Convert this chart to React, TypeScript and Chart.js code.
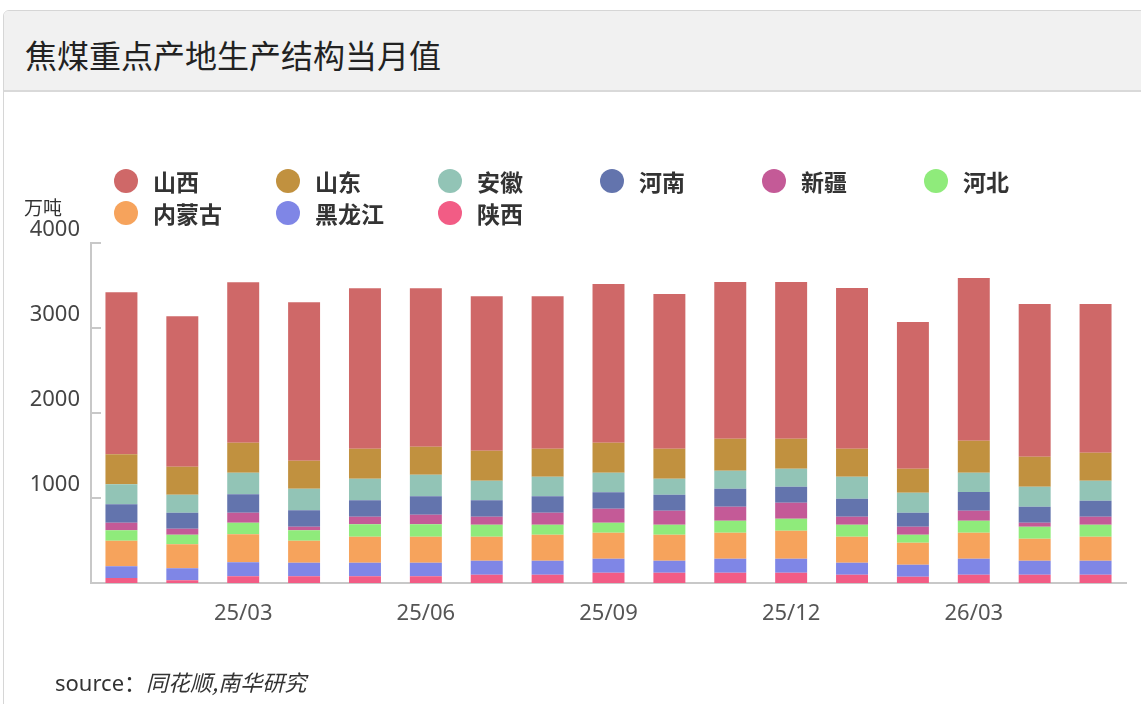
import React, { useEffect, useRef } from 'react';
import { Chart, registerables } from 'chart.js';

Chart.register(...registerables);

// ---- Data ----
const months = ['25/01', '25/02', '25/03', '25/04', '25/05', '25/06', '25/07', '25/08', '25/09', '25/10', '25/11', '25/12', '26/01', '26/02', '26/03', '26/04', '26/05'];
const shownTicks = ['25/03', '25/06', '25/09', '25/12', '26/03'];
const yTickValues = [0, 1000, 2000, 3000, 4000];

const shaanxi = [59, 31, 78, 78, 78, 78, 98, 98, 122, 122, 122, 122, 98, 75, 98, 98, 98];
const heilongjiang = [137, 142, 165, 161, 161, 161, 164, 164, 164, 140, 164, 164, 141, 141, 188, 164, 164];
const neimenggu = [302, 282, 330, 259, 306, 306, 283, 307, 306, 307, 306, 330, 306, 259, 306, 260, 283];
const hebei = [122, 114, 137, 122, 145, 145, 141, 117, 118, 117, 141, 141, 141, 94, 141, 141, 141];
const xinjiang = [90, 70, 117, 43, 90, 114, 94, 141, 164, 165, 165, 188, 94, 94, 118, 47, 94];
const henan = [216, 188, 216, 192, 193, 216, 193, 193, 193, 188, 212, 188, 212, 164, 220, 188, 189];
const anhui = [235, 212, 255, 255, 254, 255, 231, 231, 231, 188, 212, 212, 259, 236, 227, 235, 235];
const shandong = [353, 330, 353, 329, 353, 329, 353, 329, 353, 353, 376, 353, 329, 282, 377, 353, 329];
const shanxi = [1906, 1768, 1886, 1863, 1887, 1863, 1816, 1793, 1867, 1820, 1843, 1843, 1890, 1726, 1913, 1796, 1749];

// legend order (as shown) and stack order (bottom to top)
const legendNames = ['山西', '山东', '安徽', '河南', '新疆', '河北', '内蒙古', '黑龙江', '陕西'];
const colors: Record<string, string> = {
  山西: '#cf6868',
  山东: '#c1913f',
  安徽: '#92c4b6',
  河南: '#6374ad',
  新疆: '#c45a97',
  河北: '#8feb7b',
  内蒙古: '#f6a35c',
  黑龙江: '#7f86e6',
  陕西: '#f25c85',
};
const stackSeries: [string, number[]][] = [
  ['陕西', shaanxi],
  ['黑龙江', heilongjiang],
  ['内蒙古', neimenggu],
  ['河北', hebei],
  ['新疆', xinjiang],
  ['河南', henan],
  ['安徽', anhui],
  ['山东', shandong],
  ['山西', shanxi],
];

const FONT = '"Noto Sans", "Noto Sans CJK SC", sans-serif';

const innerTicks = {
  id: 'innerTicks',
  afterDraw(chart: any) {
    const { ctx, chartArea } = chart;
    const y = chart.scales.y;
    ctx.save();
    ctx.strokeStyle = '#c8c8c8';
    ctx.lineWidth = 2;
    yTickValues.forEach((v) => {
      const py = Math.round(y.getPixelForValue(v));
      ctx.beginPath();
      ctx.moveTo(chartArea.left, py);
      ctx.lineTo(chartArea.left + 10, py);
      ctx.stroke();
    });
    ctx.restore();
  },
};

export default function App() {
  const ref = useRef<HTMLCanvasElement | null>(null);

  useEffect(() => {
    document.body.style.margin = '0';
    const canvas = ref.current!;
    const chart = new Chart(canvas, {
      type: 'bar',
      data: {
        labels: months,
        datasets: stackSeries.map(([name, values]) => ({
          label: name,
          data: values,
          backgroundColor: colors[name],
          borderWidth: 0,
          categoryPercentage: 1,
          barPercentage: 0.525,
        })),
      },
      options: {
        responsive: false,
        animation: false,
        devicePixelRatio: 1,
        layout: { padding: { left: 0, top: 243, right: 15, bottom: 0 } },
        plugins: { legend: { display: false }, tooltip: { enabled: false }, title: { display: false } },
        scales: {
          x: {
            stacked: true,
            afterFit: (s: any) => { s.height = 121; },
            grid: { display: false, drawTicks: false },
            border: { display: true, color: '#c8c8c8', width: 2 },
            ticks: {
              autoSkip: false,
              maxRotation: 0,
              padding: 18,
              color: '#555',
              font: { family: FONT, size: 22 },
              callback: (_v: any, i: number) => (shownTicks.includes(months[i]) ? months[i] : ''),
            },
          },
          y: {
            stacked: true,
            min: 0,
            max: 4000,
            afterFit: (s: any) => { s.width = 91; },
            grid: { display: false, drawTicks: false },
            border: { display: true, color: '#c8c8c8', width: 2 },
            ticks: {
              stepSize: 1000,
              padding: 11,
              labelOffset: -13,
              color: '#444',
              font: { family: FONT, size: 22 },
              callback: (v: any) => (v === 0 ? '' : String(v)),
            },
          },
        },
      },
      plugins: [innerTicks],
    });
    return () => chart.destroy();
  }, []);

  return (
    <div style={{ position: 'relative', width: 1141, height: 704, overflow: 'hidden', background: '#fff', fontFamily: FONT }}>
      {/* card */}
      <div style={{ position: 'absolute', left: 3, top: 10, width: 1160, height: 720, border: '1px solid #d6d6d6', borderRadius: '6px 0 0 0', boxSizing: 'border-box' }} />
      <div style={{ position: 'absolute', left: 4, top: 11, width: 1160, height: 79, background: '#f1f1f1', borderBottom: '2px solid #d9d9d9', borderRadius: '5px 0 0 0' }} />
      <div style={{ position: 'absolute', left: 25, top: 31, fontSize: 32, lineHeight: '46px', color: '#222', fontFamily: '"Noto Sans CJK SC", sans-serif' }}>
        焦煤重点产地生产结构当月值
      </div>
      <canvas ref={ref} width={1141} height={704} style={{ position: 'absolute', left: 0, top: 0 }} />
      {/* legend */}
      {legendNames.map((name, i) => {
        const col = i % 6;
        const row = Math.floor(i / 6);
        const cx = 126 + col * 162;
        const cy = 181 + row * 32;
        return (
          <div key={name} style={{ position: 'absolute', left: cx - 12, top: cy - 15, height: 30, display: 'flex', alignItems: 'center', whiteSpace: 'nowrap' }}>
            <span style={{ width: 24, height: 24, borderRadius: 12, background: colors[name], display: 'inline-block' }} />
            <span style={{ marginLeft: 15, fontSize: 23, fontWeight: 'bold', color: '#333', fontFamily: '"Noto Sans CJK SC", sans-serif' }}>{name}</span>
          </div>
        );
      })}
      <div style={{ position: 'absolute', left: 24, top: 195, fontSize: 19, lineHeight: '24px', color: '#333', fontFamily: '"Noto Sans CJK SC", sans-serif' }}>万吨</div>
      <div style={{ position: 'absolute', left: 55, top: 665, fontSize: 22, lineHeight: '32px', color: '#333', fontFamily: FONT }}>
        source：<span style={{ fontStyle: 'italic', fontFamily: '"Noto Sans CJK SC", sans-serif' }}>同花顺,南华研究</span>
      </div>
    </div>
  );
}
